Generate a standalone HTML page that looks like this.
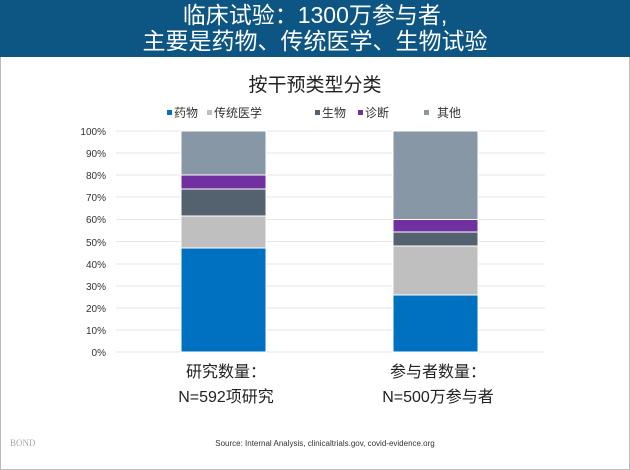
<!DOCTYPE html>
<html><head><meta charset="utf-8"><style>
body{margin:0;width:630px;height:470px;background:#fff;font-family:"Liberation Sans","Noto Sans CJK SC",sans-serif;overflow:hidden;position:relative}
.hd{position:absolute;left:0;top:0;width:630px;height:57px;background:#0d5583;color:#fff;text-align:center;font-size:23px;line-height:26px;padding-top:2px;box-sizing:border-box}
.t{position:absolute;white-space:nowrap}
.fr{position:absolute;left:0;top:0;width:628px;height:468px;border:1px solid #bbb}
</style></head><body>
<div class="fr"></div>
<div class="hd">临床试验：1300万参与者,<br>主要是药物、传统医学、生物试验</div>
<div class="t" style="left:0;width:630px;text-align:center;top:70px;font-size:19px;color:#222">按干预类型分类</div>
<svg width="630" height="470" style="position:absolute;left:0;top:0" font-family="Liberation Sans, Noto Sans CJK SC, sans-serif">
<g font-size="12" fill="#333">
<rect x="167" y="110" width="5" height="5" fill="#0070c0"/><text x="174" y="117">药物</text>
<rect x="207" y="110" width="5" height="5" fill="#bfbfbf"/><text x="214" y="117">传统医学</text>
<rect x="315" y="110" width="5" height="5" fill="#546270"/><text x="322" y="117">生物</text>
<rect x="358" y="110" width="5" height="5" fill="#7030a0"/><text x="365" y="117">诊断</text>
<rect x="424" y="110" width="5" height="5" fill="#8797a5"/><text x="437" y="117">其他</text>
</g>
<g stroke="#e6e6e6" stroke-width="1">
<line x1="116" x2="545" y1="131" y2="131"/><line x1="116" x2="545" y1="153" y2="153"/><line x1="116" x2="545" y1="175" y2="175"/><line x1="116" x2="545" y1="197" y2="197"/><line x1="116" x2="545" y1="219.5" y2="219.5"/><line x1="116" x2="545" y1="241.5" y2="241.5"/><line x1="116" x2="545" y1="264" y2="264"/><line x1="116" x2="545" y1="286" y2="286"/><line x1="116" x2="545" y1="308" y2="308"/><line x1="116" x2="545" y1="330" y2="330"/><line x1="116" x2="545" y1="352" y2="352"/>
</g>
<g font-size="10" fill="#333" text-anchor="end">
<text x="106" y="135">100%</text><text x="106" y="157">90%</text><text x="106" y="179">80%</text><text x="106" y="201">70%</text><text x="106" y="223">60%</text><text x="106" y="246">50%</text><text x="106" y="268">40%</text><text x="106" y="290">30%</text><text x="106" y="312">20%</text><text x="106" y="334">10%</text><text x="106" y="356">0%</text>
</g>
<g stroke="#fff" stroke-width="1">
<rect x="181" y="248" width="85" height="104" fill="#0070c0"/>
<rect x="181" y="216" width="85" height="32" fill="#bfbfbf"/>
<rect x="181" y="189" width="85" height="27" fill="#546270"/>
<rect x="181" y="175" width="85" height="14" fill="#7030a0"/>
<rect x="181" y="131" width="85" height="44" fill="#8797a5"/>
<rect x="393" y="295" width="85" height="57" fill="#0070c0"/>
<rect x="393" y="246" width="85" height="49" fill="#bfbfbf"/>
<rect x="393" y="232" width="85" height="14" fill="#546270"/>
<rect x="393" y="219.5" width="85" height="12.5" fill="#7030a0"/>
<rect x="393" y="131" width="85" height="88.5" fill="#8797a5"/>
</g>
<g font-size="16" fill="#222" text-anchor="middle">
<text x="226" y="377">研究数量：</text><text x="226" y="402">N=592项研究</text>
<text x="438" y="377">参与者数量：</text><text x="438" y="402">N=500万参与者</text>
</g>
<text x="325" y="446" font-size="8" fill="#333" text-anchor="middle">Source: Internal Analysis, clinicaltrials.gov, covid-evidence.org</text>
<text x="10" y="446" font-size="9" fill="#aaa" font-family="Liberation Serif, serif">BOND</text>
</svg>
</body></html>
